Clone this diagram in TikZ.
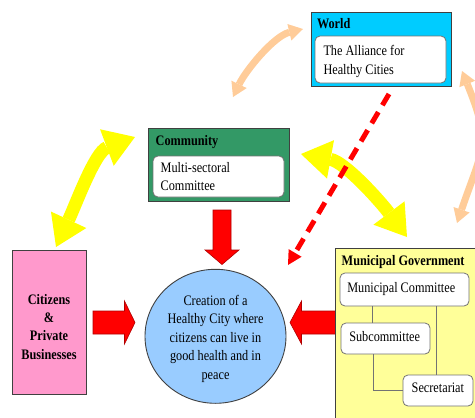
\documentclass[tikz,border=0pt]{standalone}
\usepackage{fontspec}
\setmainfont{Liberation Serif}[FakeStretch=0.845]
\usetikzlibrary{arrows.meta,shapes.geometric}
\definecolor{worldblue}{HTML}{00CCFF}
\definecolor{commgreen}{HTML}{339966}
\definecolor{citpink}{HTML}{FF99CC}
\definecolor{circblue}{HTML}{99CCFF}
\definecolor{munyellow}{HTML}{FFFF99}
\definecolor{pcol}{HTML}{FFCC99}
\definecolor{ycol}{HTML}{FFFF00}
\definecolor{rcol}{HTML}{FF0000}
\definecolor{rdark}{HTML}{B00000}
\newcommand\dfs{\fontsize{14.5}{18}\selectfont}
\begin{document}
\begin{tikzpicture}[x=1pt,y=-1pt,
  every node/.style={inner sep=0pt,outer sep=0pt},
  box/.style={draw=black!75,line width=0.9pt,anchor=north west},
  subbox/.style={draw=black!55,line width=0.8pt,fill=white,rounded corners=5pt,anchor=north west},
  txt/.style={anchor=base west,font=\dfs},
  btxt/.style={anchor=base west,font=\dfs\bfseries},
  ctxt/.style={anchor=base,font=\dfs},
  cbtxt/.style={anchor=base,font=\dfs\bfseries},
  tree/.style={draw=black!55,line width=0.8pt},
  redpoly/.style={fill=rcol,draw=rdark,line width=0.6pt,line join=miter},
  yarrow/.style={draw=ycol,line width=13pt,{Triangle[length=30pt,width=39pt,line width=0pt]}-{Triangle[length=30pt,width=39pt,line width=0pt]}},
  parrow/.style={draw=pcol,line width=7pt,{Triangle[length=14pt,width=17pt,line width=0pt]}-{Triangle[length=14pt,width=17pt,line width=0pt]}},
  darrow/.style={draw=rcol,line width=5pt,dash pattern=on 13pt off 8pt,-{Triangle[length=14pt,width=15pt,line width=0pt]}}
]
\useasboundingbox (0,0) rectangle (475,418);
\clip (0,0) rectangle (475,418);

% World
\node[box,fill=worldblue,minimum width=140pt,minimum height=74pt] (world) at (311,12) {};
\node[subbox,minimum width=131pt,minimum height=47pt] (alliance) at (315,36) {};
\node[btxt] (worldlbl) at (317,28.3) {World};
\node[txt] (al1) at (323.5,55.5) {The Alliance for};
\node[txt] (al2) at (323.5,74) {Healthy Cities};

% Community
\node[box,fill=commgreen,minimum width=141pt,minimum height=73pt] (comm) at (148,128) {};
\node[subbox,minimum width=131pt,minimum height=41pt] (msc) at (153,156) {};
\node[btxt] (commlbl) at (155.7,145.5) {Community};
\node[txt] (ms1) at (160.7,172.5) {Multi-sectoral};
\node[txt] (ms2) at (160.7,190) {Committee};

% Citizens
\node[box,fill=citpink,minimum width=74pt,minimum height=144pt] (cit) at (12,250) {};
\node[cbtxt] (c1) at (49,304.5) {Citizens};
\node[cbtxt] (c2) at (49,322.7) {\&};
\node[cbtxt] (c3) at (49,340.9) {Private};
\node[cbtxt] (c4) at (49,359) {Businesses};

% Central circle
\node[ellipse,draw=black!75,line width=0.9pt,fill=circblue,minimum width=141pt,minimum height=134pt] (circ) at (215.5,336.3) {};
\node[ctxt] (t1) at (215.5,305.5) {Creation of a};
\node[ctxt] (t2) at (215.5,323.9) {Healthy City where};
\node[ctxt] (t3) at (215.5,342.3) {citizens can live in};
\node[ctxt] (t4) at (215.5,360.7) {good health and in};
\node[ctxt] (t5) at (215.5,379.1) {peace};

% Red block arrows (drawn under the municipal box)
\coordinate (ltail) at (93,322.5);
\coordinate (ltip) at (135,322.5);
\coordinate (rtail) at (336,322.5);
\coordinate (rtip) at (290,322.5);
\coordinate (dtail) at (222,210);
\coordinate (dtip) at (222,264.5);
\filldraw[redpoly] (ltail) ++(0,-11.5) -- ++(31.5,0) -- ++(0,-10) -- (ltip) -- ++(-10.5,21.5) -- ++(0,-10) -- ++(-31.5,0) -- cycle;
\filldraw[redpoly] (rtail) ++(0,-11.5) -- ++(-34.5,0) -- ++(0,-10) -- (rtip) -- ++(11.5,21.5) -- ++(0,-10) -- ++(34.5,0) -- cycle;
\filldraw[redpoly] (dtail) ++(-9,0) -- ++(0,40) -- ++(-8,0) -- (dtip) -- ++(17,-14.5) -- ++(-8,0) -- ++(0,-40) -- cycle;

% Municipal Government
\node[box,fill=munyellow,minimum width=150pt,minimum height=180pt] (mun) at (335,248) {};
\node[btxt] (munlbl) at (341.7,265) {Municipal Government};
\node[subbox,minimum width=129pt,minimum height=33pt] (mc) at (340,273) {};
\node[subbox,minimum width=89pt,minimum height=31pt] (sc) at (341,323) {};
\node[subbox,minimum width=70pt,minimum height=31pt] (sec) at (403,375) {};
\node[txt] (mclbl) at (347.3,292) {Municipal Committee};
\node[txt] (sclbl) at (349.3,341) {Subcommittee};
\node[txt] (seclbl) at (411.7,392.5) {Secretariat};
\draw[tree] ([xshift=32pt]mc.south west) -- ([xshift=31pt]sc.north west);
\draw[tree] ([xshift=96pt]mc.south west) -- ([xshift=33pt]sec.north west);
\draw[tree] ([xshift=32pt]sc.south west) |- (sec.west);

% Peach arrows
\coordinate (pt1) at (233,97);
\coordinate (pt2) at (303,29);
\coordinate (pr1) at (462,71);
\coordinate (pr2) at (457,223);
\draw[parrow] (pt1) .. controls (246,70) and (274,36) .. (pt2);
\draw[parrow] (pr1) .. controls (492,145) and (483,147) .. (pr2);

% Yellow arrows
\coordinate (yl1) at (56,247);
\coordinate (yl2) at (135,137);
\coordinate (yr1) at (301,154);
\coordinate (yr2) at (407,237);
\draw[yarrow] (yl1) .. controls (76,204) and (95,152) .. (yl2);
\draw[yarrow] (yr1) .. controls (345,162) and (380,201) .. (yr2);

% Red dashed arrow
\coordinate (ds) at (389,94);
\coordinate (de) at (288,265);
\draw[darrow] (ds) -- (de);
\end{tikzpicture}
\end{document}
